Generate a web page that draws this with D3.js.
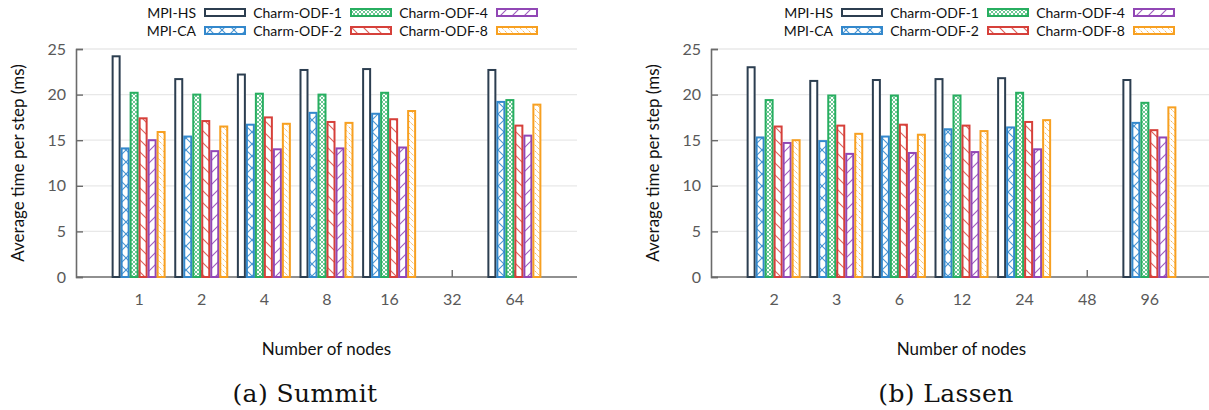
<!DOCTYPE html>
<html><head><meta charset="utf-8">
<script src="https://cdn.jsdelivr.net/npm/d3@7"></script>
<style>
html,body{margin:0;padding:0;background:#fff;}
svg{display:block;}
</style></head><body>
<svg id="fig" width="1209" height="410"></svg>
<script>
const series = ["MPI-HS","MPI-CA","Charm-ODF-1","Charm-ODF-2","Charm-ODF-4","Charm-ODF-8"];
const summitNodes = ["1","2","4","8","16","32","64"];
const lassenNodes = ["2","3","6","12","24","48","96"];
const yTicks = [0,5,10,15,20,25];

const summitMPIHS = [24.2,21.7,22.2,22.7,22.8,null,22.7];
const summitMPICA = [14.1,15.4,16.7,18.0,17.9,null,19.2];
const summitODF1  = [20.2,20.0,20.1,20.0,20.2,null,19.4];
const summitODF2  = [17.4,17.1,17.5,17.0,17.3,null,16.6];
const summitODF4  = [15.0,13.8,14.0,14.1,14.2,null,15.5];
const summitODF8  = [15.9,16.5,16.8,16.9,18.2,null,18.9];

const lassenMPIHS = [23.0,21.5,21.6,21.7,21.8,null,21.6];
const lassenMPICA = [15.3,14.9,15.4,16.2,16.4,null,16.9];
const lassenODF1  = [19.4,19.9,19.9,19.9,20.2,null,19.1];
const lassenODF2  = [16.5,16.6,16.7,16.6,17.0,null,16.1];
const lassenODF4  = [14.7,13.5,13.6,13.7,14.0,null,15.3];
const lassenODF8  = [15.0,15.7,15.6,16.0,17.2,null,18.6];

const colors = ["#2c3e50","#3388cc","#27ae60","#d6403a","#9147b5","#f7a021"];
const sans = "Lato, 'Open Sans', sans-serif";

const svg = d3.select("#fig");
const defs = svg.append("defs");

function pat(id, size, color, paths, sw, dash, op){
  const p = defs.append("pattern").attr("id", id).attr("patternUnits","userSpaceOnUse")
    .attr("width", size).attr("height", size);
  p.append("rect").attr("width",size).attr("height",size).attr("fill","#fff");
  paths.forEach(d => {
    const l = p.append("path").attr("d", d).attr("stroke", color).attr("stroke-width", sw)
      .attr("fill","none").attr("stroke-opacity", op||1);
    if (dash) l.attr("stroke-dasharray", dash);
  });
}
pat("p0", 10, colors[0], [], 1);
pat("p1", 12, colors[1], ["M0,0L12,12","M12,0L0,12"], 1.1, null, 0.9);
pat("p2", 4, colors[2], ["M0,0L4,4","M4,0L0,4"], 0.8, null, 0.85);
pat("p3", 12, colors[3], ["M-1,-1L13,13","M-1,11L1,13","M11,-1L13,1"], 1.1, null, 0.85);
pat("p4", 12, colors[4], ["M-1,13L13,-1","M-1,1L1,-1","M11,13L13,11"], 1.1, null, 0.9);
pat("p5", 6, colors[5], ["M-1,-1L7,7","M-1,5L1,7","M5,-1L7,1"], 1, "1.5,1", 0.9);

function chart(x0, x1, cats, data, legendX, caption, captionX){
  const x = d3.scalePoint().domain(cats).range([x0, x1]).padding(1);
  const y = d3.scaleLinear().domain([0,25]).range([277, 49]);
  const xi = d3.scaleBand().domain(series).range([-27, 27]).paddingInner(0);
  const g = svg.append("g");

  // grid
  g.selectAll(".grid").data(yTicks.filter(t=>t>0)).join("line")
    .attr("x1", x0).attr("x2", x1).attr("y1", d=>y(d)).attr("y2", d=>y(d))
    .attr("stroke", "#e8e8e8").attr("stroke-width", 1.3);

  // y axis
  const ya = g.append("g").attr("transform", `translate(${x0},0)`)
    .call(d3.axisLeft(y).tickValues(yTicks).tickSize(-7).tickPadding(10));
  ya.select(".domain").attr("stroke","#6b6b6b").attr("stroke-width",1.6);
  ya.selectAll(".tick line").attr("stroke","#6b6b6b").attr("stroke-width",1.4);
  ya.selectAll(".tick text").attr("font-family", sans).attr("font-size", 16).attr("fill","#595959");

  // x axis
  const xa = g.append("g").attr("transform", `translate(0,${y(0)})`)
    .call(d3.axisBottom(x).tickSize(-7).tickSizeOuter(0).tickPadding(17));
  xa.select(".domain").attr("stroke","#6b6b6b").attr("stroke-width",1.6).attr("d", `M${x0},0H${x1}`);
  xa.selectAll(".tick line").attr("stroke","#6b6b6b").attr("stroke-width",1.4);
  xa.selectAll(".tick text").attr("font-family", sans).attr("font-size", 16).attr("fill","#595959");

  // bars
  series.forEach((s, si) => {
    const vals = data[si];
    g.append("g").selectAll("rect").data(cats.map((c,i)=>({c, v: vals[i]})).filter(d=>d.v!=null))
      .join("rect")
      .attr("x", d => x(d.c) + xi(s) + 1)
      .attr("width", xi.bandwidth() - 2)
      .attr("y", d => y(d.v))
      .attr("height", d => y(0) - y(d.v))
      .attr("fill", `url(#p${si})`)
      .attr("stroke", colors[si]).attr("stroke-width", 2);
  });

  // axis titles
  g.append("text").attr("transform", `translate(${x0-56},${(y(0)+y(25))/2}) rotate(-90)`)
    .attr("text-anchor","middle").attr("dominant-baseline","middle")
    .attr("font-family", sans).attr("font-size", 17).attr("fill","#111")
    .text("Average time per step (ms)");
  g.append("text").attr("x", (x0+x1)/2).attr("y", 355)
    .attr("text-anchor","middle").attr("font-family", sans).attr("font-size", 17).attr("fill","#111")
    .text("Number of nodes");
  g.append("text").attr("x", captionX).attr("y", 402)
    .attr("text-anchor","middle").attr("font-family", "'DejaVu Serif', serif").attr("font-size", 25)
    .attr("letter-spacing", 0.4).attr("fill","#111")
    .text(caption);

  // legend
  const lg = g.append("g");
  const order = [[0,1],[2,3],[4,5]];
  order.forEach((col, ci) => {
    col.forEach((si, ri) => {
      const sx = legendX + ci*146;
      const cy = 12.5 + ri*18;
      lg.append("rect").attr("x", sx+1).attr("y", cy-3.5).attr("width", 40).attr("height", 7)
        .attr("fill", `url(#p${si})`).attr("stroke", colors[si]).attr("stroke-width", 2);
      lg.append("text").attr("x", sx-8).attr("y", cy).attr("text-anchor","end")
        .attr("dominant-baseline","central").attr("font-family", sans).attr("font-size", 14).attr("fill","#111")
        .text(series[si]);
    });
  });
}

chart(76, 577, summitNodes, [summitMPIHS,summitMPICA,summitODF1,summitODF2,summitODF4,summitODF8], 204, "(a) Summit", 305);
chart(711, 1212, lassenNodes, [lassenMPIHS,lassenMPICA,lassenODF1,lassenODF2,lassenODF4,lassenODF8], 841, "(b) Lassen", 946);
</script>
</body></html>
